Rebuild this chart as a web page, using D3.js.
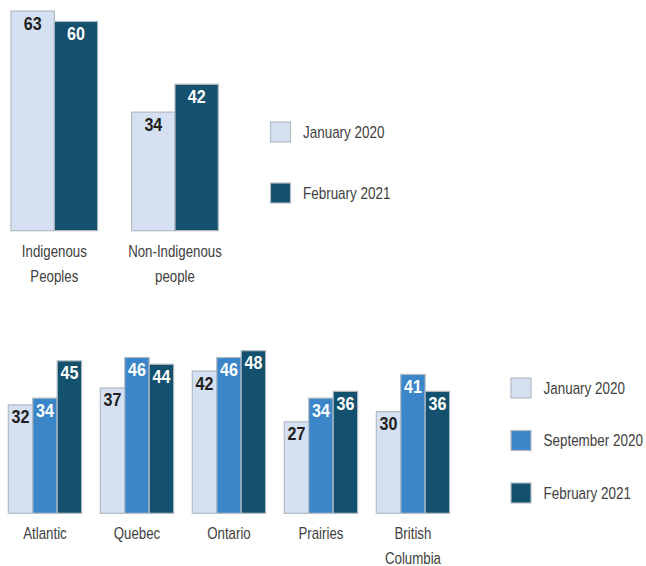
<!DOCTYPE html>
<html>
<head>
<meta charset="utf-8">
<script src="https://cdn.jsdelivr.net/npm/d3@7"></script>
<style>
  body { margin: 0; background: #fff; }
  svg { display: block; font-family: "Liberation Sans", Arial, sans-serif; }
</style>
</head>
<body>
<svg id="chart" width="646" height="566"></svg>
<script>
// top chart data
const topCategories = [['Indigenous', 'Peoples'], ['Non-Indigenous', 'people']];
const topSeries = ['January 2020', 'February 2021'];
const topJan2020 = [63, 34];
const topFeb2021 = [60, 42];

// bottom chart data
const regions = [['Atlantic'], ['Quebec'], ['Ontario'], ['Prairies'], ['British', 'Columbia']];
const regionSeries = ['January 2020', 'September 2020', 'February 2021'];
const regJan2020 = [32, 37, 42, 27, 30];
const regSep2020 = [34, 46, 46, 34, 41];
const regFeb2021 = [45, 44, 48, 36, 36];

const colors = {
  'January 2020': '#d5e1f2',
  'September 2020': '#3b86c9',
  'February 2021': '#13516e'
};
const labelColors = {
  'January 2020': '#231f20',
  'September 2020': '#ffffff',
  'February 2021': '#ffffff'
};
const strokeColor = '#b3bbc3';
const narrow = 0.82; // squeeze Liberation Sans into a condensed look

const svg = d3.select('#chart');

// text placed at (x, y) and squeezed horizontally
function narrowText(sel, x, y, sx) {
  return sel.append('g')
    .attr('transform', d => `translate(${x(d)}, ${y(d)}) scale(${sx}, 1)`)
    .append('text');
}

function drawGroup(opts) {
  const { categories, series, values, xRange, padInner, yBase, yMax, yTop, legendX, legendY, legendStep, labelY } = opts;
  const g = svg.append('g');
  const idx = d3.range(categories.length);

  const x0 = d3.scaleBand().domain(idx).range(xRange).paddingInner(padInner).paddingOuter(0);
  const x1 = d3.scaleBand().domain(series).range([0, x0.bandwidth()]).padding(0);
  const y = d3.scaleLinear().domain([0, yMax]).range([yBase, yTop]);

  const rows = [];
  idx.forEach(i => series.forEach((s, j) => rows.push({ i, s, v: values[j][i] })));

  const bars = g.selectAll('g.bar').data(rows).enter().append('g').attr('class', 'bar');

  bars.append('rect')
    .attr('x', d => x0(d.i) + x1(d.s))
    .attr('y', d => y(d.v))
    .attr('width', x1.bandwidth())
    .attr('height', d => y(0) - y(d.v))
    .attr('fill', d => colors[d.s])
    .attr('stroke', strokeColor)
    .attr('stroke-width', 1.2);

  narrowText(bars, d => x0(d.i) + x1(d.s) + x1.bandwidth() / 2, d => y(d.v) + 18.5, 0.92)
    .attr('text-anchor', 'middle')
    .attr('font-size', 17.5)
    .attr('font-weight', 'bold')
    .attr('fill', d => labelColors[d.s])
    .text(d => d.v);

  // category labels
  const cats = g.selectAll('g.cat').data(idx).enter().append('g').attr('class', 'cat');
  const cat = narrowText(cats, i => x0(i) + x0.bandwidth() / 2, () => labelY, narrow)
    .attr('text-anchor', 'middle')
    .attr('font-size', 16.2)
    .attr('fill', '#404040');
  cat.selectAll('tspan').data(i => categories[i]).enter().append('tspan')
    .attr('x', 0)
    .attr('dy', (d, k) => k === 0 ? 0 : 25.5)
    .text(d => d);

  // legend
  const leg = g.selectAll('g.legend').data(series).enter().append('g')
    .attr('class', 'legend')
    .attr('transform', (d, k) => `translate(${legendX}, ${legendY + k * legendStep})`);
  leg.append('rect')
    .attr('width', 20).attr('height', 20)
    .attr('fill', d => colors[d])
    .attr('stroke', strokeColor)
    .attr('stroke-width', 1.2);
  narrowText(leg, () => 32.5, () => 15.5, narrow)
    .attr('font-size', 16.4)
    .attr('fill', '#404040')
    .text(d => d);
}

drawGroup({
  categories: topCategories,
  series: topSeries,
  values: [topJan2020, topFeb2021],
  xRange: [11, 218.3],
  padInner: 0.282,
  yBase: 230.7,
  yMax: 63,
  yTop: 11,
  legendX: 270.5,
  legendY: 122,
  legendStep: 61,
  labelY: 256.5
});

drawGroup({
  categories: regions,
  series: regionSeries,
  values: [regJan2020, regSep2020, regFeb2021],
  xRange: [8.3, 449.6],
  padInner: 0.203,
  yBase: 513.3,
  yMax: 48,
  yTop: 350.7,
  legendX: 511,
  legendY: 378,
  legendStep: 52.5,
  labelY: 538.5
});
</script>
</body>
</html>
